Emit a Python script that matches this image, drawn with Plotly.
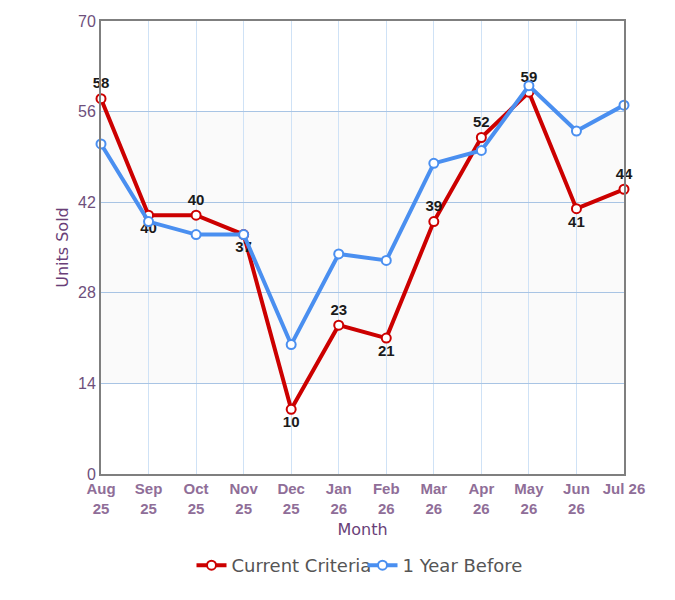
import plotly.graph_objects as go

months = ["Aug 25", "Sep 25", "Oct 25", "Nov 25", "Dec 25", "Jan 26",
          "Feb 26", "Mar 26", "Apr 26", "May 26", "Jun 26", "Jul 26"]
tick_text = ["Aug<br>25", "Sep<br>25", "Oct<br>25", "Nov<br>25", "Dec<br>25", "Jan<br>26",
             "Feb<br>26", "Mar<br>26", "Apr<br>26", "May<br>26", "Jun<br>26", "Jul 26"]
current = [58, 40, 40, 37, 10, 23, 21, 39, 52, 59, 41, 44]
year_before = [51, 39, 37, 37, 20, 34, 33, 48, 50, 60, 53, 57]
label_pos = ["top center", "bottom center", "top center", "bottom center", "bottom center",
             "top center", "bottom center", "top center", "top center", "top center",
             "bottom center", "top center"]

red = "#cc0000"
blue = "#4a8ff0"

fig = go.Figure()

fig.add_trace(go.Scatter(
    x=months, y=current, name="Current Criteria",
    mode="lines+markers+text",
    line=dict(color=red, width=4),
    marker=dict(size=9, color="white", line=dict(color=red, width=2)),
    text=[str(v) for v in current], textposition=label_pos,
    textfont=dict(family="Liberation Sans", size=15, color="#1a1a1a", weight="bold"),
    cliponaxis=False,
))

fig.add_trace(go.Scatter(
    x=months, y=year_before, name="1 Year Before",
    mode="lines+markers",
    line=dict(color=blue, width=4),
    marker=dict(size=9, color="white", line=dict(color=blue, width=2)),
    cliponaxis=False,
))

# light band behind the middle of the plot
fig.add_shape(type="rect", xref="paper", x0=0, x1=1, yref="y", y0=14, y1=56,
              fillcolor="#fafafa", line_width=0, layer="below")

fig.update_xaxes(
    type="category", range=[0, 11], automargin=False,
    tickvals=months, ticktext=tick_text,
    tickfont=dict(family="Liberation Sans", size=15, color="#8f6e98", weight="bold"),
    showgrid=True, gridcolor="#cfe2f6", gridwidth=1,
    showline=True, linecolor="#7f7f7f", linewidth=2, mirror=True,
    ticks="", zeroline=False,
    title=dict(text="Month", font=dict(family="DejaVu Sans", size=16, color="#6a3f78"), standoff=8),
)
fig.update_yaxes(
    range=[0, 70], tickvals=[0, 14, 28, 42, 56, 70], automargin=False,
    tickfont=dict(family="Liberation Sans", size=16, color="#6e4f7c"),
    showgrid=True, gridcolor="#a8c4e4", gridwidth=1,
    showline=True, linecolor="#7f7f7f", linewidth=2, mirror=True,
    ticks="", zeroline=False,
    title=dict(text="Units Sold", font=dict(family="DejaVu Sans", size=16, color="#6a3f78"), standoff=5),
)

fig.update_layout(
    width=675, height=600,
    margin=dict(l=93, r=59, t=13, b=134),
    paper_bgcolor="white", plot_bgcolor="white",
    showlegend=True,
    legend=dict(orientation="h", x=0.5, xanchor="center", y=-0.161, yanchor="top",
                font=dict(family="DejaVu Sans", size=18, color="#555555"),
                itemwidth=30, entrywidth=126, entrywidthmode="pixels"),
)

fig.write_html("out.html")
